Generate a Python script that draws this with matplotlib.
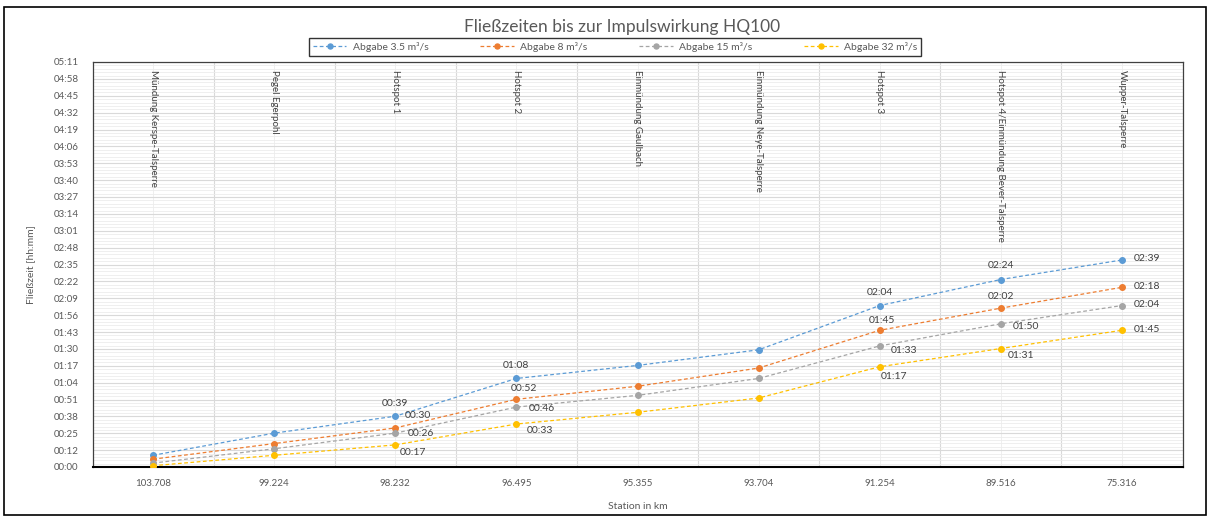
import matplotlib.pyplot as plt
import matplotlib.ticker as mticker
from matplotlib.patches import Rectangle

plt.rcParams['font.family'] = ['Lato', 'DejaVu Sans']

stations = ["103.708", "99.224", "98.232", "96.495", "95.355", "93.704", "91.254", "89.516", "75.316"]
orte = ["Mündung Kerspe-Talsperre", "Pegel Egerpohl", "Hotspot 1", "Hotspot 2",
        "Einmündung Gaulbach", "Einmündung Neye-Talsperre", "Hotspot 3",
        "Hotspot 4/Einmündung Bever-Talsperre", "Wupper-Talsperre"]

# Fließzeiten in Minuten
q35 = [9, 26, 39, 68, 78, 90, 124, 144, 159]
q8 = [6, 18, 30, 52, 62, 76, 105, 122, 138]
q15 = [3, 14, 26, 46, 55, 68, 93, 110, 124]
q32 = [1, 9, 17, 33, 42, 53, 77, 91, 105]

series = [
    ("Abgabe 3.5 m³/s", q35, "#5b9bd5"),
    ("Abgabe 8 m³/s", q8, "#ed7d31"),
    ("Abgabe 15 m³/s", q15, "#a5a5a5"),
    ("Abgabe 32 m³/s", q32, "#ffc000"),
]

# which points get a label and offset (px)
labelpos = {
    0: {2: (0, 13), 3: (0, 13), 6: (0, 13), 7: (0, 14), 8: (25, 1)},
    1: {2: (23, 12), 3: (8, 11), 6: (2, 10), 7: (0, 12), 8: (25, 1)},
    2: {2: (26, 0), 3: (25, -1), 6: (24, -5), 7: (25, -3), 8: (25, 1)},
    3: {2: (18, -8), 3: (24, -6), 6: (14, -10), 7: (20, -7), 8: (25, 1)},
}

def fmt_hm(v, pos=None):
    m = int(v + 1e-6)
    return "%02d:%02d" % (m // 60, m % 60)

fig = plt.figure(figsize=(12.09, 5.17), dpi=100)
ax = fig.add_axes([92.5 / 1209, 1 - 467 / 517, 1090 / 1209, 405 / 517])

x = list(range(len(stations)))
pt = 0.72
for i, (name, vals, col) in enumerate(series):
    ax.plot(x, vals, linestyle=(0, (3, 2)), linewidth=0.9, color=col,
            marker="o", markersize=4, label=name, zorder=3)
    for j, (dx, dy) in labelpos[i].items():
        ax.annotate(fmt_hm(vals[j]), (x[j], vals[j]), xytext=(dx * pt, dy * pt),
                    textcoords="offset points", ha="center", va="center",
                    fontsize=7.5, color="#404040", zorder=4)

for j, name in enumerate(orte):
    ax.text(x[j], 305, name, rotation=-90, ha="center", va="top",
            fontsize=7, color="#404040", zorder=4)

step = 0.009 * 1440
ax.set_ylim(0, 24 * step)
ax.set_xlim(-0.5, len(stations) - 0.5)
ax.yaxis.set_major_locator(mticker.MultipleLocator(step))
ax.yaxis.set_minor_locator(mticker.MultipleLocator(step / 5))
ax.yaxis.set_major_formatter(mticker.FuncFormatter(fmt_hm))
ax.set_xticks(x)
ax.set_xticklabels(stations)
ax.set_xticks([k + 0.5 for k in range(len(stations) - 1)], minor=True)

ax.grid(True, which="major", axis="y", color="#d9d9d9", linewidth=0.8)
ax.grid(True, which="minor", axis="y", color="#ececec", linewidth=0.6)
ax.grid(True, which="minor", axis="x", color="#d9d9d9", linewidth=0.8)
ax.grid(True, which="major", axis="x", color="#ececec", linewidth=0.6)
ax.set_axisbelow(True)

ax.tick_params(axis="both", which="both", length=0, labelsize=7, labelcolor="#595959")
ax.tick_params(axis="x", pad=9)
ax.tick_params(axis="y", pad=10)
for s in ["top", "right", "left"]:
    ax.spines[s].set_color("#404040")
    ax.spines[s].set_linewidth(0.9)
ax.spines["bottom"].set_color("black")
ax.spines["bottom"].set_linewidth(1.5)

ax.set_ylabel("Fließzeit [hh:mm]", fontsize=7.5, color="#595959", labelpad=13)
ax.set_xlabel("Station in km", fontsize=7.5, color="#595959", labelpad=10)

fig.text(622 / 1209, 1 - 27 / 517, "Fließzeiten bis zur Impulswirkung HQ100",
         ha="center", va="center", fontsize=12.5, color="#595959")

leg = fig.legend(loc="center", bbox_to_anchor=(615 / 1209, 1 - 47 / 517), ncol=4,
                 fontsize=7.5, frameon=True, fancybox=False, handlelength=3.2,
                 columnspacing=5.0, borderpad=0.4, handletextpad=0.6, markerscale=0.9)
leg.get_frame().set_edgecolor("black")
leg.get_frame().set_linewidth(1.0)
for t in leg.get_texts():
    t.set_color("#595959")

fig.patches.append(Rectangle((4 / 1209, 2 / 517), 1202 / 1209, 508 / 517,
                             transform=fig.transFigure, fill=False,
                             edgecolor="black", linewidth=1.2))

plt.savefig("out.png", dpi=100)
